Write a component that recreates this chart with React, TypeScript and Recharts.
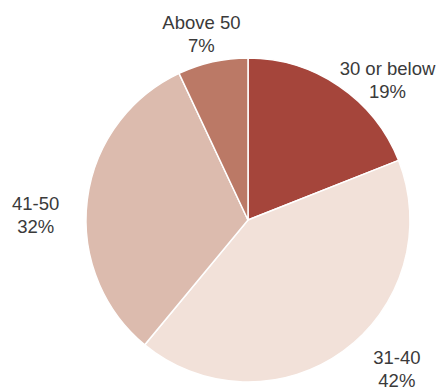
import { PieChart, Pie, Cell } from 'recharts';

const categories = ['30 or below', '31-40', '41-50', 'Above 50'];
const shares = [19, 42, 32, 7];

const COLORS = ['#a5453b', '#f2e1d9', '#dcbbae', '#bb7966'];

// label offsets relative to the radial anchor, to mimic the "best fit" placement
const LABEL_NUDGE = [
  { dx: 22, dy: 34 },
  { dx: 26, dy: -19 },
  { dx: -5, dy: 22 },
  { dx: -1, dy: 19 },
];

const data = categories.map((name, i) => ({ name, value: shares[i] }));

const RADIAN = Math.PI / 180;

const renderLabel = (props: any) => {
  const { cx, cy, midAngle, outerRadius, index, name, value } = props;
  const r = outerRadius + 47;
  const nudge = LABEL_NUDGE[index] || { dx: 0, dy: 0 };
  const x = cx + r * Math.cos(-midAngle * RADIAN) + nudge.dx;
  const y = cy + r * Math.sin(-midAngle * RADIAN) + nudge.dy;
  return (
    <text
      x={x}
      y={y}
      textAnchor="middle"
      fill="#3a3a3a"
      fontSize={18.5}
      fontFamily="'Liberation Sans', Arial, sans-serif"
    >
      <tspan x={x} dy={-6}>{name}</tspan>
      <tspan x={x} dy={23}>{`${value}%`}</tspan>
    </text>
  );
};

export default function App() {
  return (
    <div style={{ position: 'absolute', left: 0, top: 0, width: 438, height: 390, background: '#fff' }}>
      <PieChart width={438} height={390} margin={{ top: 0, right: 0, bottom: 0, left: 0 }}>
        <Pie
          data={data}
          dataKey="value"
          nameKey="name"
          cx={248}
          cy={220}
          outerRadius={162}
          startAngle={90}
          endAngle={-270}
          stroke="#ffffff"
          strokeWidth={1.5}
          labelLine={false}
          label={renderLabel}
          isAnimationActive={false}
        >
          {data.map((entry, i) => (
            <Cell key={`cell-${entry.name}`} fill={COLORS[i]} />
          ))}
        </Pie>
      </PieChart>
    </div>
  );
}
